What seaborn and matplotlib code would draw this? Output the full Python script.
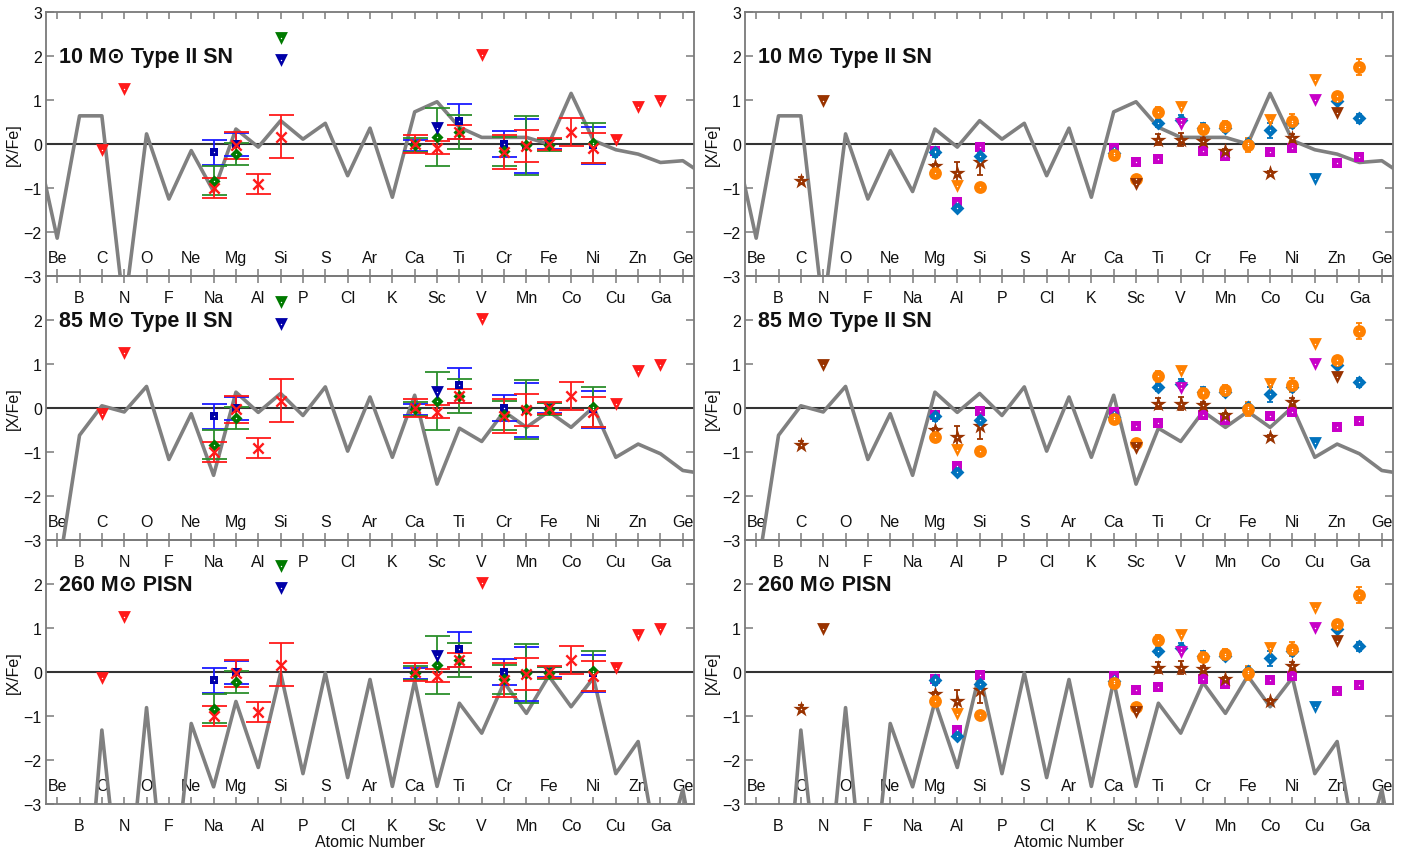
import numpy as np
import pandas as pd
import matplotlib
matplotlib.use("Agg")
import matplotlib.pyplot as plt
import seaborn as sns

sns.set_theme(style="white")
plt.rcParams['font.family'] = ['Liberation Sans', 'DejaVu Sans']

# ---------------- data ----------------
elements = ['Li', 'Be', 'B', 'C', 'N', 'O', 'F', 'Ne', 'Na', 'Mg', 'Al', 'Si', 'P', 'S', 'Cl',
            'Ar', 'K', 'Ca', 'Sc', 'Ti', 'V', 'Cr', 'Mn', 'Fe', 'Co', 'Ni', 'Cu', 'Zn', 'Ga', 'Ge', 'As']
atomic_numbers = list(range(3, 34))

odd_labels = ['B', 'N', 'F', 'Na', 'Al', 'P', 'Cl', 'K', 'Sc', 'V', 'Mn', 'Co', 'Cu', 'Ga']
even_labels = ['Be', 'C', 'O', 'Ne', 'Mg', 'Si', 'S', 'Ar', 'Ca', 'Ti', 'Cr', 'Fe', 'Ni', 'Zn', 'Ge']

panel_titles = ['10 M\u2299 Type II SN', '85 M\u2299 Type II SN', '260 M\u2299 PISN']

model_10 = [0.18, -2.14, 0.64, 0.64, -3.8, 0.23, -1.25, -0.15, -1.08, 0.34, -0.07, 0.53, 0.11, 0.47, -0.72,
            0.36, -1.21, 0.73, 0.96, 0.38, 0.15, 0.15, 0.15, 0.0, 1.15, 0.08, -0.13, -0.23, -0.42, -0.38, -0.72]
model_85 = [-5.0, -3.9, -0.62, 0.05, -0.09, 0.49, -1.17, -0.13, -1.53, 0.36, -0.10, 0.33, -0.17, 0.48, -0.98,
            0.25, -1.12, 0.29, -1.73, -0.46, -0.76, -0.08, -0.44, -0.08, -0.44, 0.02, -1.12, -0.82, -1.04, -1.42, -1.5]
model_260 = [-8.0, -8.0, -7.5, -1.32, -6.0, -0.81, -6.0, -1.17, -2.61, -0.67, -2.17, -0.02, -2.31, -0.02, -2.40,
             -0.17, -2.60, -0.20, -2.60, -0.71, -1.39, -0.24, -0.94, -0.09, -0.79, -0.13, -2.31, -1.58, -4.5, -2.67, -5.4]
models = [model_10, model_85, model_260]

# left column observations
red_el = ['Na', 'Mg', 'Al', 'Si', 'Ca', 'Sc', 'Ti', 'Cr', 'Mn', 'Fe', 'Co', 'Ni']
red_val = [-1.0, -0.03, -0.91, 0.17, 0.0, -0.08, 0.27, -0.18, -0.04, 0.0, 0.27, -0.1]
red_err = [0.22, 0.30, 0.23, 0.48, 0.20, 0.15, 0.16, 0.38, 0.36, 0.14, 0.32, 0.34]
red_ul_el = ['C', 'N', 'V', 'Cu', 'Zn', 'Ga']
red_ul = [-0.14, 1.25, 2.02, 0.10, 0.85, 0.98]

blue_el = ['Na', 'Mg', 'Ca', 'Ti', 'Cr', 'Mn', 'Fe', 'Ni']
blue_val = [-0.19, -0.01, -0.03, 0.52, 0.0, -0.05, 0.0, -0.03]
blue_err = [0.28, 0.26, 0.12, 0.40, 0.30, 0.62, 0.12, 0.42]
blue_ul_el = ['Si', 'Sc']
blue_ul = [1.92, 0.36]

green_el = ['Na', 'Mg', 'Ca', 'Sc', 'Ti', 'Cr', 'Mn', 'Fe', 'Ni']
green_val = [-0.83, -0.22, -0.03, 0.16, 0.27, -0.17, -0.03, -0.02, 0.02]
green_err = [0.33, 0.25, 0.16, 0.66, 0.38, 0.33, 0.67, 0.14, 0.45]
green_ul_el = ['Si']
green_ul = [2.42]

# right column observations
brown_el = ['C', 'Mg', 'Al', 'Si', 'Ti', 'V', 'Cr', 'Mn', 'Co', 'Ni']
brown_val = [-0.83, -0.50, -0.67, -0.42, 0.10, 0.10, 0.06, -0.17, -0.67, 0.13]
brown_err = [0.09, 0.05, 0.25, 0.28, 0.13, 0.14, 0.08, 0.05, 0.06, 0.10]
brown_ul_el = ['N', 'Sc', 'Zn']
brown_ul = [0.98, -0.92, 0.70]

orange_el = ['Mg', 'Si', 'Ca', 'Sc', 'Ti', 'Cr', 'Mn', 'Fe', 'Ni', 'Zn', 'Ga']
orange_val = [-0.65, -0.98, -0.24, -0.79, 0.72, 0.35, 0.40, -0.02, 0.53, 1.08, 1.75]
orange_err = [0.12, 0.02, 0.05, 0.08, 0.12, 0.10, 0.13, 0.16, 0.16, 0.05, 0.19]
orange_ul_el = ['Al', 'V', 'Co', 'Cu']
orange_ul = [-0.96, 0.83, 0.55, 1.46]

cblue_el = ['Mg', 'Al', 'Si', 'Ca', 'Ti', 'V', 'Cr', 'Mn', 'Fe', 'Co', 'Ni', 'Zn', 'Ga']
cblue_val = [-0.19, -1.45, -0.27, -0.20, 0.47, 0.55, 0.37, 0.37, 0.02, 0.31, 0.47, 0.98, 0.58]
cblue_err = [0.10, 0.05, 0.06, 0.06, 0.08, 0.10, 0.10, 0.08, 0.10, 0.17, 0.10, 0.05, 0.10]
cblue_ul_el = ['Cu']
cblue_ul = [-0.79]

magenta_el = ['Mg', 'Al', 'Si', 'Ca', 'Sc', 'Ti', 'Cr', 'Mn', 'Co', 'Ni', 'Zn', 'Ga']
magenta_val = [-0.15, -1.32, -0.07, -0.10, -0.42, -0.35, -0.17, -0.27, -0.19, -0.08, -0.43, -0.29]
magenta_ul_el = ['V', 'Cu']
magenta_ul = [0.45, 1.00]

# ---------------- helpers ----------------
Z = dict(zip(elements, atomic_numbers))
odd_z = [Z[e] for e in odd_labels]
even_z = [Z[e] for e in even_labels]


def points(ax, els, vals, errs, marker, mcolor, ecolor, s, capsize, dot=True, lw=0.0):
    z = [Z[e] for e in els]
    if errs is not None:
        ax.errorbar(z, vals, yerr=errs, fmt='none', ecolor=ecolor, elinewidth=1.3,
                    capsize=capsize, capthick=1.3, zorder=4)
    if marker in ('x', '+'):
        ax.scatter(z, vals, marker=marker, s=s, color=mcolor, linewidths=1.7, zorder=6)
    else:
        sns.scatterplot(x=z, y=vals, ax=ax, marker=marker, s=s, color=mcolor,
                        edgecolor=mcolor, linewidth=lw, zorder=5, legend=False)
    if dot:
        ax.scatter(z, vals, s=1.0, color='white', zorder=6, linewidths=0)


def upper(ax, els, vals, color, s=85):
    points(ax, els, vals, None, 'v', color, color, s, 0)


# ---------------- figure ----------------
W, H = 1422, 854
fig = plt.figure(figsize=(W / 100, H / 100), dpi=100)
fig.patch.set_facecolor('white')
col_left = [46 / W, 745 / W]
ax_w = 648 / W
ax_h = 264 / H
row_bottom = [1 - 277 / H, 1 - 541 / H, 1 - 805 / H]
frame = '#7a7a7a'
fs = 11.5

for col in range(2):
    for row in range(3):
        ax = fig.add_axes([col_left[col], row_bottom[row], ax_w, ax_h])
        ax.set_facecolor('none')
        ax.set_xlim(3.5, 32.5)
        ax.set_ylim(-3, 3)

        # reference line and model
        ax.axhline(0, color='#333333', lw=1.5, zorder=2)
        sns.lineplot(x=atomic_numbers, y=models[row], ax=ax, color='#808080', lw=2.6,
                     zorder=3, legend=False)

        # element labels (even Z inside the panel)
        for z, lab in zip(even_z, even_labels):
            ax.text(z, -2.58, lab, ha='center', va='center', fontsize=fs, color='#111111', zorder=1)

        ax.text(4.08, 2.0, panel_titles[row], ha='left', va='center', fontsize=15.5,
                fontweight='bold', color='#111111', zorder=7)

        if col == 0:
            points(ax, blue_el, blue_val, blue_err, 's', '#0000A8', '#1a1aff', 40, 9)
            points(ax, green_el, green_val, green_err, 'D', '#007a00', '#2b8f2b', 38, 9)
            points(ax, red_el, red_val, red_err, 'x', '#ff1a1a', '#ff1a1a', 55, 9, dot=False)
            upper(ax, red_ul_el, red_ul, '#ff1a1a')
            upper(ax, blue_ul_el, blue_ul, '#0000A8')
            upper(ax, green_ul_el, green_ul, '#007a00')
        else:
            points(ax, magenta_el, magenta_val, None, 's', '#c800c8', '#c800c8', 60, 2.5)
            points(ax, brown_el, brown_val, brown_err, '*', '#993300', '#993300', 150, 2.5)
            points(ax, cblue_el, cblue_val, cblue_err, 'D', '#0072bd', '#0072bd', 50, 2.5)
            points(ax, orange_el, orange_val, orange_err, 'o', '#ff8000', '#ff8000', 85, 2.5)
            upper(ax, brown_ul_el, brown_ul, '#993300')
            upper(ax, orange_ul_el, orange_ul, '#ff8000')
            upper(ax, cblue_ul_el, cblue_ul, '#0072bd')
            upper(ax, magenta_ul_el, magenta_ul, '#c800c8')

        # ticks
        ax.set_xticks(list(range(4, 33)))
        ax.set_xticklabels([dict(zip(odd_z, odd_labels)).get(z, '') for z in range(4, 33)])
        if row == 0:
            ax.set_yticks([-3, -2, -1, 0, 1, 2, 3])
        else:
            ax.set_yticks([-3, -2, -1, 0, 1, 2])
        ax.tick_params(axis='x', direction='in', top=True, bottom=True, length=5, width=1.1,
                       color=frame, labelsize=fs, pad=10, labelcolor='#111111')
        ax.tick_params(axis='y', direction='in', left=True, right=True, length=6, width=1.1,
                       color=frame, labelsize=fs, pad=3, labelcolor='#111111')
        for sp in ax.spines.values():
            sp.set_color(frame)
            sp.set_linewidth(1.3)
        ax.set_ylabel('[X/Fe]', fontsize=fs, color='#111111', labelpad=2)
        ax.set_xlabel('Atomic Number' if row == 2 else '', fontsize=fs, color='#111111', labelpad=1)

fig.savefig('out.png', dpi=100, facecolor='white')
